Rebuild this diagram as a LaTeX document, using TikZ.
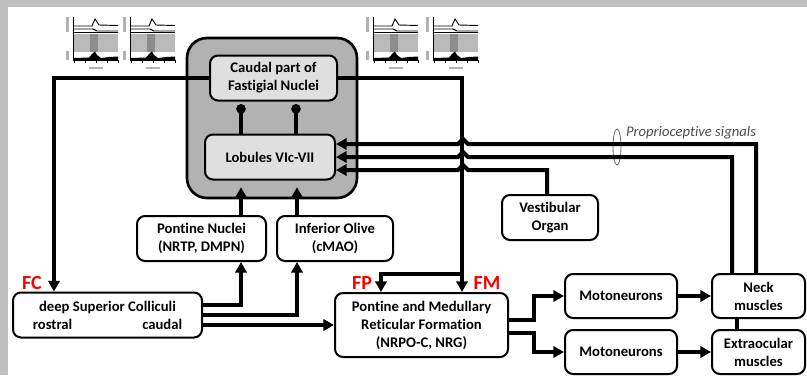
\documentclass[tikz,border=0pt]{standalone}
\usepackage{fontspec}
\setmainfont{Carlito}[Ligatures=NoCommon]
\usepackage{tikz}
\usetikzlibrary{arrows.meta,positioning}

\begin{document}
\begin{tikzpicture}[x=0.75pt,y=-0.75pt,
  box/.style={draw,line width=1.5pt,rounded corners=6pt,fill=white,align=center,
    font=\fontsize{11}{13.5}\selectfont\bfseries,inner sep=0pt},
  inbox/.style={box,fill=gray!25},
  conn/.style={line width=3pt,-{Triangle[length=8pt,width=8.5pt]}},
  inhib/.style={line width=3pt,-{Circle[length=7pt]},shorten >=2pt},
  flabel/.style={text=red,font=\fontsize{15}{15}\selectfont\bfseries,inner sep=0pt,anchor=base}]

\useasboundingbox (0,0) rectangle (807,375);
\fill[gray!50] (0,0) rectangle (807,375);
\fill[white] (8,7) rectangle (807,375);

% spike plots
\foreach \px in {65,122,365,425} {
\begin{scope}[shift={(\px,15)}]
\fill[gray!60] (1,2) rectangle (3.5,17);
\fill[gray!60] (1,36) rectangle (3.5,45);
\fill[gray!60] (24,51.5) rectangle (38,54);
\draw[line width=0.3pt] (8,2) -- (8,45) -- (53,45);
\draw[line width=0.7pt] (9,11) -- (27,11) -- (30,4) -- (34,10) -- (53,10.5);
\draw[line width=0.7pt] (9,14) -- (28,14) -- (32,16) -- (53,16);
\draw[line width=0.4pt] (9,17.5) -- (53,17.5);
\fill[gray!55] (9,19) rectangle (53,37);
\fill[gray!90] (25,19) rectangle (33,37);
\fill (9,45) -- (9,43) -- (24,42.5) -- (28,38) -- (30,36.5) -- (32,40) -- (36,43) -- (44,42) -- (53,41.5) -- (53,45) -- cycle;
\foreach \t in {9,20,31,42,53} \draw[line width=0.3pt] (\t,45) -- (\t,47.5);
\end{scope}
}

% cerebellum
\node[box,fill=gray!60,rounded corners=15pt,line width=2pt,minimum width=127.5pt,minimum height=120pt] (cereb) at (272,118) {};
\node[inbox,minimum width=95.25pt,minimum height=33.75pt] (caudal) at (273.5,78) {Caudal part of\\Fastigial Nuclei};
\node[inbox,minimum width=97.5pt,minimum height=33.75pt] (lobules) at (270,157) {Lobules VIc-VII};

% brainstem
\node[box,minimum width=96.75pt,minimum height=33.75pt] (pontn) at (201.5,238.5) {Pontine Nuclei\\(NRTP, DMPN)};
\node[box,minimum width=87pt,minimum height=33.75pt] (olive) at (335,238.5) {Inferior Olive\\(cMAO)};
\node[box,minimum width=141.75pt,minimum height=33.75pt] (dsc) at (107.5,315) {deep Superior Colliculi\\\makebox[112pt]{rostral\hfill caudal}};
\node[box,minimum width=129.75pt,minimum height=48pt] (pmrf) at (421.5,325) {Pontine and Medullary\\Reticular Formation\\(NRPO-C, NRG)};
\node[box,minimum width=72pt,minimum height=33.75pt] (vest) at (550,217.5) {Vestibular\\Organ};

% periphery
\node[box,minimum width=84pt,minimum height=33pt] (mot1) at (621,296) {Motoneurons};
\node[box,minimum width=84pt,minimum height=33pt] (mot2) at (621,352) {Motoneurons};
\node[box,minimum width=69.75pt,minimum height=33pt] (neck) at (758.5,296) {Neck\\muscles};
\node[box,minimum width=69.75pt,minimum height=33pt] (extra) at (758.5,352) {Extraocular\\muscles};

% labels
\node[flabel] (fc) at (32,289) {FC};
\node[flabel] (fp) at (362,289) {FP};
\node[flabel] (fm) at (487,289) {FM};
\node[text=black!70,font=\fontsize{11}{13}\selectfont\itshape,inner sep=0pt] (prop) at (691,133) {Proprioceptive signals};
\draw[black!60,line width=0.6pt] (617,147) ellipse [x radius=3pt,y radius=13.5pt];

% fastigial output
\draw[conn] (caudal.west) -| ([xshift=31.5pt]dsc.north west);
\draw[conn] (caudal.east) -| ([xshift=96pt]pmrf.north west);
\coordinate (fmsplit) at (463,274);
\draw[conn] (fmsplit) -| ([xshift=35.25pt]pmrf.north west);

% purkinje
\coordinate (inhA) at ([xshift=27.75pt]lobules.north west);
\coordinate (inhB) at ([xshift=69pt]lobules.north west);
\draw[inhib] (inhA) -- (inhA |- caudal.south);
\draw[inhib] (inhB) -- (inhB |- caudal.south);

% mossy and climbing fibres
\coordinate (pnup) at ([xshift=78.75pt]pontn.north west);
\coordinate (ioup) at ([xshift=15.75pt]olive.north west);
\draw[conn,shorten >=5pt] (pnup) -- (pnup |- lobules.south);
\draw[conn,shorten >=5pt] (ioup) -- (ioup |- lobules.south);
\draw[conn] ([yshift=7.5pt]dsc.east) -| ([xshift=78.75pt]pontn.south west);
\draw[conn] (dsc.east) -| ([xshift=15.75pt]olive.south west);
\draw[conn] ([yshift=-7.5pt]dsc.east) -- (pmrf.west);

% feedback, hopping over FM line
\foreach \src/\sx/\ly in {neck/33.75pt/144, neck/15.75pt/157, vest/34.5pt/170}
  \draw[conn] ([xshift=\sx]\src.north west) |- (468,\ly) -- (463,\ly-5) -- (458,\ly) -- (lobules.east |- 0,\ly);

% motor output
\draw[conn] ([yshift=3.75pt]pmrf.east) -- ++(18.75pt,0) |- (mot1.west);
\draw[conn] ([yshift=-6pt]pmrf.east) -- ++(18.75pt,0) |- (mot2.west);
\draw[conn] (mot1) -- (neck);
\draw[conn] (mot2) -- (extra);
\draw[line width=3pt] ([xshift=19.5pt]neck.south west) -- ([xshift=19.5pt]extra.north west);
\end{tikzpicture}
\end{document}
